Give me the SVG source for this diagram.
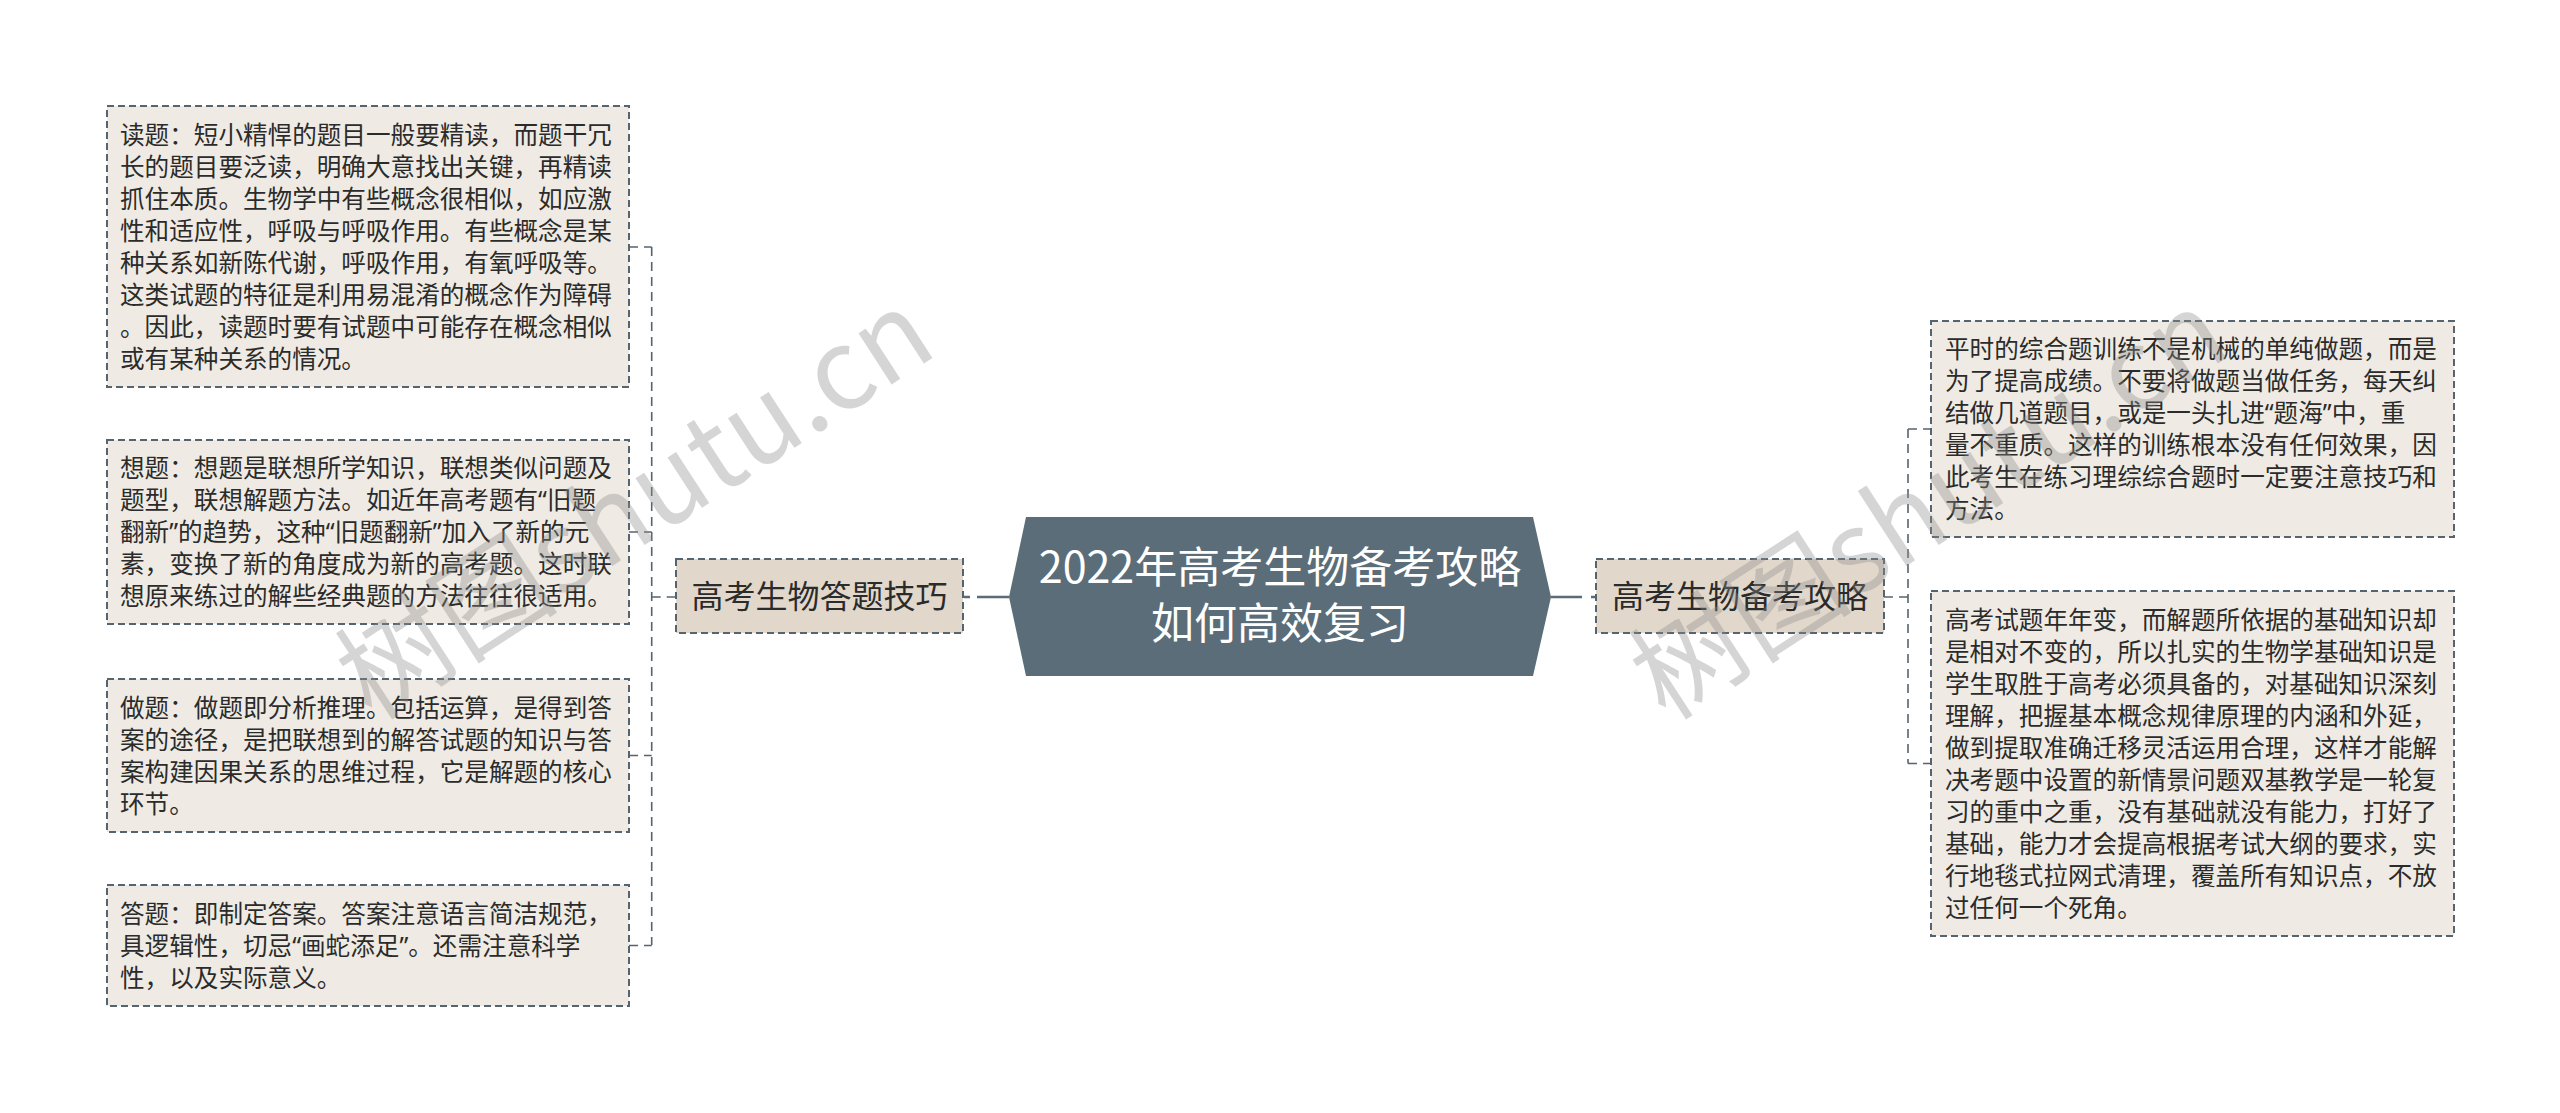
<svg xmlns="http://www.w3.org/2000/svg" width="2560" height="1113" viewBox="0 0 2560 1113">
<style>
.leaf{fill:#efebe4;stroke:#55646f;stroke-width:2;stroke-dasharray:7,4}
.branch{fill:#e1d8cb;stroke:#55646f;stroke-width:2;stroke-dasharray:7,4}
.lt{font-family:"Noto Sans CJK SC","Noto Sans",sans-serif;font-size:24.6px;fill:#2b2b2b}
.q{font-family:"Noto Sans","Noto Sans CJK SC",sans-serif}
.bt{font-family:"Noto Sans CJK SC","Noto Sans",sans-serif;font-size:32px;fill:#2b2b2b}
.ct{font-family:"Noto Sans CJK SC","Noto Sans",sans-serif;font-size:43px;fill:#ffffff}
.dash{fill:none;stroke:#55646f;stroke-width:1.6;stroke-dasharray:9,6}
.solid{fill:none;stroke:#5b6b77;stroke-width:2.5}
.wm{font-family:"Noto Sans CJK SC","Noto Sans",sans-serif;font-size:112px;fill:#8a8a8a;fill-opacity:0.36}
</style>
<rect width="2560" height="1113" fill="#ffffff"/>
<g id="connectors">
<path class="dash" d="M651.7 247 V945"/>
<path class="dash" d="M629 247 H651.7"/>
<path class="dash" d="M629 532 H651.7"/>
<path class="dash" d="M629 755.5 H651.7"/>
<path class="dash" d="M629 945.5 H651.7"/>
<path class="dash" d="M651.7 597 H676"/>
<path class="solid" d="M977 597 H1009"/>
<path class="solid" d="M964 597 H970"/>
<path class="solid" d="M1551 597 H1582"/>
<path class="solid" d="M1591 597 H1596"/>
<path class="dash" d="M1884 597 H1908"/>
<path class="dash" d="M1908 429 V763.5"/>
<path class="dash" d="M1908 429 H1931"/>
<path class="dash" d="M1908 763.5 H1931"/>
</g>
<g id="center">
<polygon points="1009,597 1026,517 1533,517 1551,597 1533,676 1026,676" fill="#5b6d79"/>
<text class="ct" x="1280" y="583" text-anchor="middle">2022年高考生物备考攻略</text>
<text class="ct" x="1280" y="639" text-anchor="middle">如何高效复习</text>
</g>
<g id="branch-left">
<rect class="branch" x="676" y="559" width="287" height="74"/>
<text class="bt" x="819.5" y="608" text-anchor="middle">高考生物答题技巧</text>
</g>
<g id="branch-right">
<rect class="branch" x="1596" y="559" width="288" height="74"/>
<text class="bt" x="1740" y="608" text-anchor="middle">高考生物备考攻略</text>
</g>
<g id="leaf-dut">
<rect class="leaf" x="107" y="106" width="522" height="281"/>
<text class="lt">
<tspan x="120" y="144">读题：短小精悍的题目一般要精读，而题干冗</tspan>
<tspan x="120" y="176">长的题目要泛读，明确大意找出关键，再精读</tspan>
<tspan x="120" y="208">抓住本质。生物学中有些概念很相似，如应激</tspan>
<tspan x="120" y="240">性和适应性，呼吸与呼吸作用。有些概念是某</tspan>
<tspan x="120" y="272">种关系如新陈代谢，呼吸作用，有氧呼吸等。</tspan>
<tspan x="120" y="304">这类试题的特征是利用易混淆的概念作为障碍</tspan>
<tspan x="120" y="336">。因此，读题时要有试题中可能存在概念相似</tspan>
<tspan x="120" y="368">或有某种关系的情况。</tspan>
</text>
</g>
<g id="leaf-xiangti">
<rect class="leaf" x="107" y="440" width="522" height="184"/>
<text class="lt">
<tspan x="120" y="477">想题：想题是联想所学知识，联想类似问题及</tspan>
<tspan x="120" y="509">题型，联想解题方法。如近年高考题有<tspan class="q">“</tspan>旧题</tspan>
<tspan x="120" y="541">翻新<tspan class="q">”</tspan>的趋势，这种<tspan class="q">“</tspan>旧题翻新<tspan class="q">”</tspan>加入了新的元</tspan>
<tspan x="120" y="573">素，变换了新的角度成为新的高考题。这时联</tspan>
<tspan x="120" y="605">想原来练过的解些经典题的方法往往很适用。</tspan>
</text>
</g>
<g id="leaf-zuoti">
<rect class="leaf" x="107" y="679" width="522" height="153"/>
<text class="lt">
<tspan x="120" y="717">做题：做题即分析推理。包括运算，是得到答</tspan>
<tspan x="120" y="749">案的途径，是把联想到的解答试题的知识与答</tspan>
<tspan x="120" y="781">案构建因果关系的思维过程，它是解题的核心</tspan>
<tspan x="120" y="813">环节。</tspan>
</text>
</g>
<g id="leaf-dati">
<rect class="leaf" x="107" y="885" width="522" height="121"/>
<text class="lt">
<tspan x="120" y="923">答题：即制定答案。答案注意语言简洁规范，</tspan>
<tspan x="120" y="955">具逻辑性，切忌<tspan class="q">“</tspan>画蛇添足<tspan class="q">”</tspan>。还需注意科学</tspan>
<tspan x="120" y="987">性，以及实际意义。</tspan>
</text>
</g>
<g id="leaf-pingshi">
<rect class="leaf" x="1931" y="321" width="523" height="216"/>
<text class="lt">
<tspan x="1945" y="358">平时的综合题训练不是机械的单纯做题，而是</tspan>
<tspan x="1945" y="390">为了提高成绩。不要将做题当做任务，每天纠</tspan>
<tspan x="1945" y="422">结做几道题目，或是一头扎进<tspan class="q">“</tspan>题海<tspan class="q">”</tspan>中，重</tspan>
<tspan x="1945" y="454">量不重质。这样的训练根本没有任何效果，因</tspan>
<tspan x="1945" y="486">此考生在练习理综综合题时一定要注意技巧和</tspan>
<tspan x="1945" y="518">方法。</tspan>
</text>
</g>
<g id="leaf-gaokao">
<rect class="leaf" x="1931" y="591" width="523" height="345"/>
<text class="lt">
<tspan x="1945" y="629">高考试题年年变，而解题所依据的基础知识却</tspan>
<tspan x="1945" y="661">是相对不变的，所以扎实的生物学基础知识是</tspan>
<tspan x="1945" y="693">学生取胜于高考必须具备的，对基础知识深刻</tspan>
<tspan x="1945" y="725">理解，把握基本概念规律原理的内涵和外延，</tspan>
<tspan x="1945" y="757">做到提取准确迁移灵活运用合理，这样才能解</tspan>
<tspan x="1945" y="789">决考题中设置的新情景问题双基教学是一轮复</tspan>
<tspan x="1945" y="821">习的重中之重，没有基础就没有能力，打好了</tspan>
<tspan x="1945" y="853">基础，能力才会提高根据考试大纲的要求，实</tspan>
<tspan x="1945" y="885">行地毯式拉网式清理，覆盖所有知识点，不放</tspan>
<tspan x="1945" y="917">过任何一个死角。</tspan>
</text>
</g>
<g id="watermarks">
<text class="wm" transform="translate(372 722) rotate(-33)">树图shutu.cn</text>
<text class="wm" transform="translate(1666 722) rotate(-33)">树图shutu.cn</text>
</g>
</svg>
